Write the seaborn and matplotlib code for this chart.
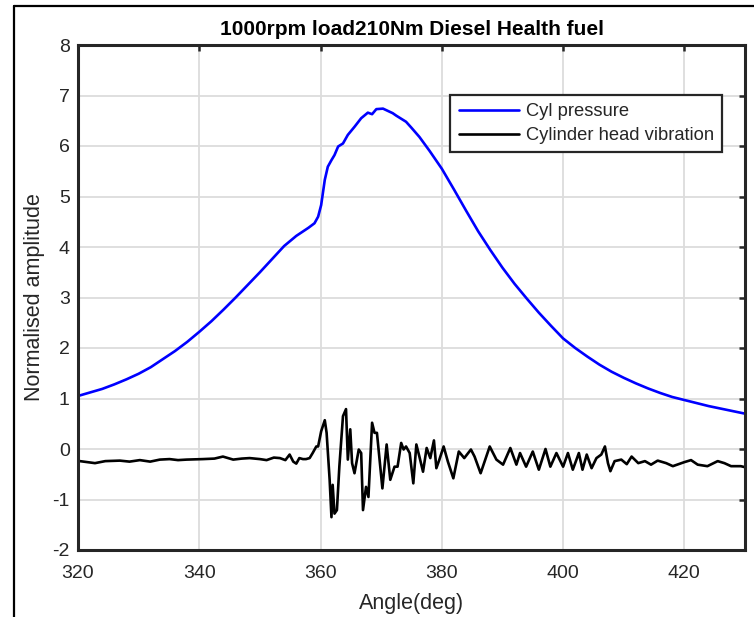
import numpy as np
import pandas as pd
import seaborn as sns
import matplotlib
matplotlib.use("Agg")
import matplotlib.pyplot as plt
from matplotlib.lines import Line2D

# ---------------- data ----------------
title = "1000rpm load210Nm Diesel Health fuel"
series_names = ["Cyl pressure", "Cylinder head vibration"]

cyl_angle = [320, 322, 324, 326, 328, 330, 332, 334, 336, 338,
             340, 342, 344, 346, 348, 350, 352, 354, 356, 357,
             358, 359, 359.6, 360.1, 360.7, 361.2, 361.8, 362.3, 362.9, 363.7,
             364.5, 365.6, 366.7, 367.8, 368.5, 369.2, 370.3, 371.9, 372.5, 374.1,
             375, 376.3, 378, 380, 382, 384, 386, 388, 390, 392,
             394, 396, 398, 400, 402, 404, 406, 408, 410, 412,
             414, 416, 418, 420, 422, 424, 426, 428, 430]
cyl_value = [1.05, 1.12, 1.19, 1.28, 1.38, 1.49, 1.62, 1.78, 1.94, 2.12,
             2.32, 2.53, 2.76, 3.00, 3.25, 3.50, 3.76, 4.02, 4.22, 4.30,
             4.38, 4.47, 4.60, 4.83, 5.33, 5.59, 5.72, 5.82, 5.99, 6.05,
             6.22, 6.38, 6.55, 6.66, 6.63, 6.73, 6.74, 6.65, 6.60, 6.48,
             6.36, 6.18, 5.90, 5.55, 5.14, 4.72, 4.31, 3.94, 3.59, 3.27,
             2.98, 2.70, 2.44, 2.19, 2.00, 1.83, 1.67, 1.53, 1.41, 1.30,
             1.20, 1.11, 1.03, 0.97, 0.91, 0.85, 0.80, 0.75, 0.70]

vib_angle = [320, 320.3, 322.8, 324.5, 326.9, 328.5, 330.2, 331.9, 333.5, 335.1,
             336.5, 337.9, 340.6, 342.5, 343.9, 345.6, 347.0, 348.3, 350.0, 351.1,
             352.3, 353.3, 354.2, 354.9, 355.5, 356.0, 356.5, 357.1, 357.6, 358.2,
             358.7, 359.3, 359.6, 360.1, 360.7, 361.0, 361.5, 361.8, 362.0, 362.3,
             362.7, 363.1, 363.7, 364.2, 364.5, 364.9, 365.2, 365.6, 366.3, 366.7,
             367.0, 367.5, 367.9, 368.5, 368.9, 369.3, 370.2, 370.9, 371.5, 372.2,
             372.7, 373.3, 373.7, 374.1, 374.7, 375.3, 375.8, 376.3, 376.9, 377.5,
             378.1, 378.7, 379.1, 379.6, 380.3, 381.0, 381.9, 382.8, 383.7, 384.8,
             385.4, 386.4, 387.9, 389.0, 390.1, 391.3, 392.3, 392.9, 393.9, 395.0,
             396.0, 397.1, 397.9, 398.9, 400.0, 400.8, 401.6, 402.6, 403.2, 403.9,
             404.7, 405.5, 406.3, 406.9, 407.4, 407.8, 408.5, 409.6, 410.5, 411.3,
             412.4, 413.5, 414.5, 415.6, 417.0, 418.1, 420.0, 421.1, 422.2, 423.8,
             425.5, 426.6, 427.7, 429.3, 430]
vib_value = [-0.26, -0.24, -0.28, -0.24, -0.23, -0.25, -0.22, -0.25, -0.21, -0.20,
             -0.22, -0.21, -0.20, -0.19, -0.15, -0.21, -0.19, -0.18, -0.20, -0.22,
             -0.17, -0.18, -0.22, -0.11, -0.25, -0.29, -0.18, -0.20, -0.20, -0.18,
             -0.08, 0.05, 0.05, 0.35, 0.57, 0.32, -0.61, -1.35, -0.71, -1.28,
             -1.21, -0.35, 0.65, 0.79, -0.21, 0.39, -0.28, -0.48, -0.01, -0.08,
             -1.21, -0.75, -0.95, 0.52, 0.32, 0.32, -0.78, 0.09, -0.61, -0.35,
             -0.35, 0.12, -0.01, 0.05, -0.08, -0.68, 0.09, -0.15, -0.45, 0.02,
             -0.18, 0.17, -0.38, -0.21, 0.05, -0.25, -0.58, -0.05, -0.18, -0.01,
             -0.15, -0.48, 0.05, -0.21, -0.31, 0.02, -0.31, -0.08, -0.35, -0.05,
             -0.41, 0.00, -0.35, -0.08, -0.35, -0.08, -0.41, -0.08, -0.41, -0.11,
             -0.38, -0.18, -0.11, 0.05, -0.28, -0.44, -0.24, -0.21, -0.30, -0.15,
             -0.28, -0.24, -0.31, -0.23, -0.28, -0.34, -0.26, -0.22, -0.31, -0.34,
             -0.24, -0.28, -0.34, -0.34, -0.36]

x_ticks = [320, 340, 360, 380, 400, 420]
y_ticks = [-2, -1, 0, 1, 2, 3, 4, 5, 6, 7, 8]

df = pd.concat([
    pd.DataFrame({"angle": cyl_angle, "value": cyl_value, "series": series_names[0]}),
    pd.DataFrame({"angle": vib_angle, "value": vib_value, "series": series_names[1]}),
], ignore_index=True)

# ---------------- style ----------------
sns.set_style("white")
plt.rcParams["font.family"] = ["Liberation Sans", "DejaVu Sans"]
plt.rcParams["axes.unicode_minus"] = False

fig = plt.figure(figsize=(7.54, 6.17), dpi=100)
ax = fig.add_axes([78 / 754, 1 - 550 / 617, (745 - 78) / 754, (550 - 45) / 617])

sns.lineplot(data=df, x="angle", y="value", hue="series", estimator=None, sort=False,
             palette={series_names[0]: "#0000ff", series_names[1]: "#000000"},
             linewidth=1.9, ax=ax, legend=False)

ax.set_xlim(320, 430)
ax.set_ylim(-2, 8)
ax.set_xticks(x_ticks)
ax.set_yticks(y_ticks)
ax.grid(True, color="#dcdcdc", linewidth=1.3)
ax.set_axisbelow(True)

for s in ax.spines.values():
    s.set_visible(True)
    s.set_color("#262626")
    s.set_linewidth(2.2)

ax.tick_params(axis="both", direction="in", length=4, width=1.8, color="#262626",
               top=True, right=True, labelsize=14, labelcolor="#262626")
ax.tick_params(axis="x", pad=11)
ax.tick_params(axis="y", pad=6)

ax.set_xlabel("Angle(deg)", fontsize=15.5, color="#262626", labelpad=8)
ax.set_ylabel("Normalised amplitude", fontsize=15.5, color="#262626", labelpad=5)
ax.set_title(title, fontsize=15, fontweight="bold", color="#000000", pad=7)

handles = [Line2D([0], [0], color="#0000ff", lw=1.9),
           Line2D([0], [0], color="#000000", lw=1.9)]
leg = ax.legend(handles, series_names, loc="upper right",
                bbox_to_anchor=((722 - 78) / 667, (550 - 95) / 505),
                fontsize=13.2, frameon=True, fancybox=False, framealpha=1,
                edgecolor="#262626", handlelength=3.3, labelspacing=0.37,
                borderpad=0.45, handletextpad=0.35, borderaxespad=0)
leg.get_frame().set_linewidth(1.6)

# outer window border (top and left edges)
fig.add_artist(Line2D([14 / 754, 1.0], [1 - 6 / 617, 1 - 6 / 617],
                      transform=fig.transFigure, color="black", lw=1.6))
fig.add_artist(Line2D([14 / 754, 14 / 754], [0, 1 - 6 / 617],
                      transform=fig.transFigure, color="black", lw=1.6))

fig.savefig("out.png", dpi=100)
